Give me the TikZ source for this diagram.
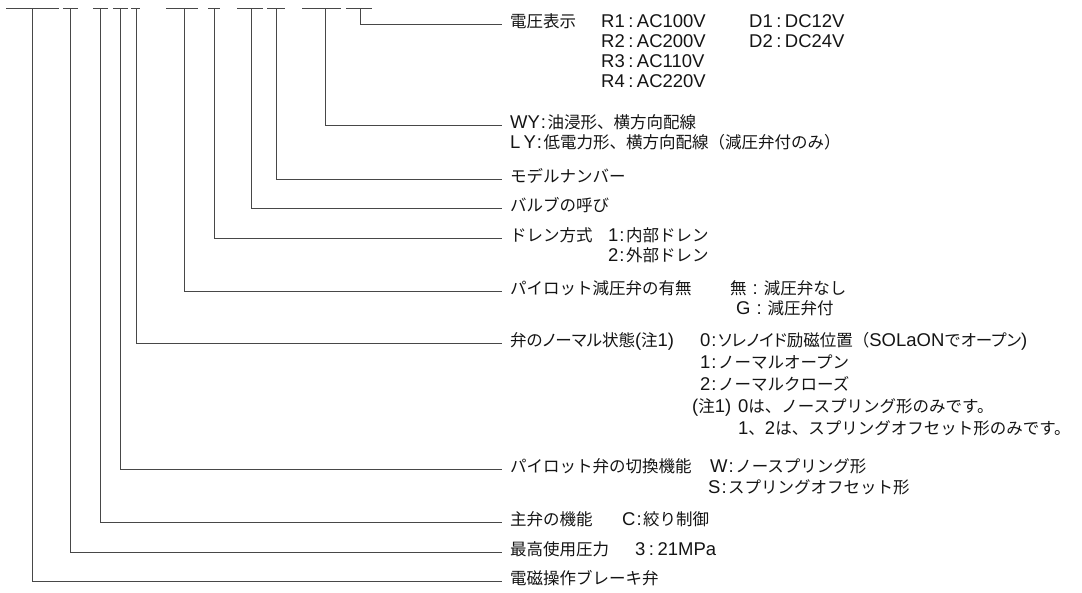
\documentclass[tikz,border=0pt]{standalone}
\usepackage{fontspec}
\setmainfont{Noto Sans CJK JP}
\newfontfamily\jpp{Noto Sans CJK JP}[RawFeature=+palt]
\newfontfamily\latf{Liberation Sans}[Scale=1.12]
\newcommand\lat[1]{{\latf #1}}
\newcommand\cw{\kern3.5pt\lat{:}\kern3.5pt}
\newcommand\cn{\kern1pt\lat{:}\kern1.5pt}
\begin{document}
\begin{tikzpicture}[x=1pt,y=-1pt,font=\fontsize{16.5}{20}\selectfont]
\tikzset{
  ln/.style={draw=black!72, line width=0.9pt},
  lab/.style={anchor=west, inner sep=0pt, text height=0.88em, text depth=0.12em, text=black!92},
}
\useasboundingbox (0,0) rectangle (1082,592);
% code bars
\draw[ln] (6,8) -- (59,8);
\draw[ln] (63,8) -- (78,8);
\draw[ln] (93,8) -- (108,8);
\draw[ln] (113,8) -- (128,8);
\draw[ln] (131,8) -- (140,8);
\draw[ln] (166,8) -- (198,8);
\draw[ln] (208,8) -- (220,8);
\draw[ln] (237,8) -- (263,8);
\draw[ln] (267,8) -- (285,8);
\draw[ln] (302,8) -- (341,8);
\draw[ln] (346,8) -- (372,8);
\coordinate (t1) at (32,8);
\coordinate (t2) at (70,8);
\coordinate (t3) at (100,8);
\coordinate (t4) at (120,8);
\coordinate (t5) at (136,8);
\coordinate (t6) at (184,8);
\coordinate (t7) at (214,8);
\coordinate (t8) at (251,8);
\coordinate (t9) at (276,8);
\coordinate (t10) at (325,8);
\coordinate (t11) at (360,8);
% labels
\node[lab] (l11) at (502,24) {\hspace*{8pt}電圧表示};
\node[lab] (l10) at (502,125) {\hspace*{8pt}\lat{WY}\cn 油浸形、横方向配線};
\node[lab] (l9) at (502,179) {\hspace*{8pt}モデルナンバー};
\node[lab] (l8) at (502,208) {\hspace*{8pt}バルブの呼び};
\node[lab] (l7) at (502,238) {\hspace*{8pt}ドレン方式};
\node[lab] (l6) at (502,291) {\hspace*{8pt}パイロット減圧弁の有無};
\node[lab] (l5) at (502,343) {\hspace*{8pt}{\jpp 弁のノーマル状態}\lat{(}注\lat{1)}};
\node[lab] (l4) at (502,469) {\hspace*{8pt}パイロット弁の切換機能};
\node[lab] (l3) at (502,522) {\hspace*{8pt}主弁の機能};
\node[lab] (l2) at (502,552) {\hspace*{8pt}最高使用圧力};
\node[lab] (l1) at (502,581) {\hspace*{8pt}電磁操作ブレーキ弁};
% connectors
\foreach \i in {1,...,11} { \draw[ln] (t\i) |- (l\i.west); }
% values
\node[lab] (r1) at (601,24) {\lat{R1}\cw\lat{AC100V}};
\node[lab] (r2) at (601,44) {\lat{R2}\cw\lat{AC200V}};
\node[lab] (r3) at (601,64) {\lat{R3}\cw\lat{AC110V}};
\node[lab] (r4) at (601,84) {\lat{R4}\cw\lat{AC220V}};
\node[lab] (d1) at (749,24) {\lat{D1}\cw\lat{DC12V}};
\node[lab] (d2) at (749,44) {\lat{D2}\cw\lat{DC24V}};
\node[lab] (ly) at (510,145) {\lat{L\,Y}\cn 低電力形、横方向配線（減圧弁付のみ）};
\node[lab] (dr1) at (608,238) {\lat{1}\cn 内部ドレン};
\node[lab] (dr2) at (608,258) {\lat{2}\cn 外部ドレン};
\node[lab] (g1) at (730,291) {無\kern6pt\lat{:}\kern6pt 減圧弁なし};
\node[lab] (g2) at (736,311) {\lat{G}\kern6pt\lat{:}\kern6pt 減圧弁付};
\node[lab] (n0) at (700,343) {\lat{0}\cn{\jpp ソレノイド}励磁位置（\lat{SOLaON}で{\jpp オープン}\lat{)}};
\node[lab] (n1) at (700,365) {\lat{1}\cn ノーマルオープン};
\node[lab] (n2) at (700,387) {\lat{2}\cn ノーマルクローズ};
\node[lab] (nt) at (692,409) {\lat{(}注\lat{1)}};
\node[lab] (nt1) at (738,409) {\lat{0}は、ノースプリング形のみです。};
\node[lab] (nt2) at (738,431) {\lat{1}、\lat{2}は、スプリングオフセット形のみです。};
\node[lab] (w1) at (710,469) {\lat{W}\cn ノースプリング形};
\node[lab] (w2) at (708,490) {\lat{S}\cn スプリングオフセット形};
\node[lab] (c1) at (622,522) {\lat{C}\cn 絞り制御};
\node[lab] (p1) at (635,552) {\lat{3}\cw\lat{21MPa}};
\end{tikzpicture}
\end{document}
